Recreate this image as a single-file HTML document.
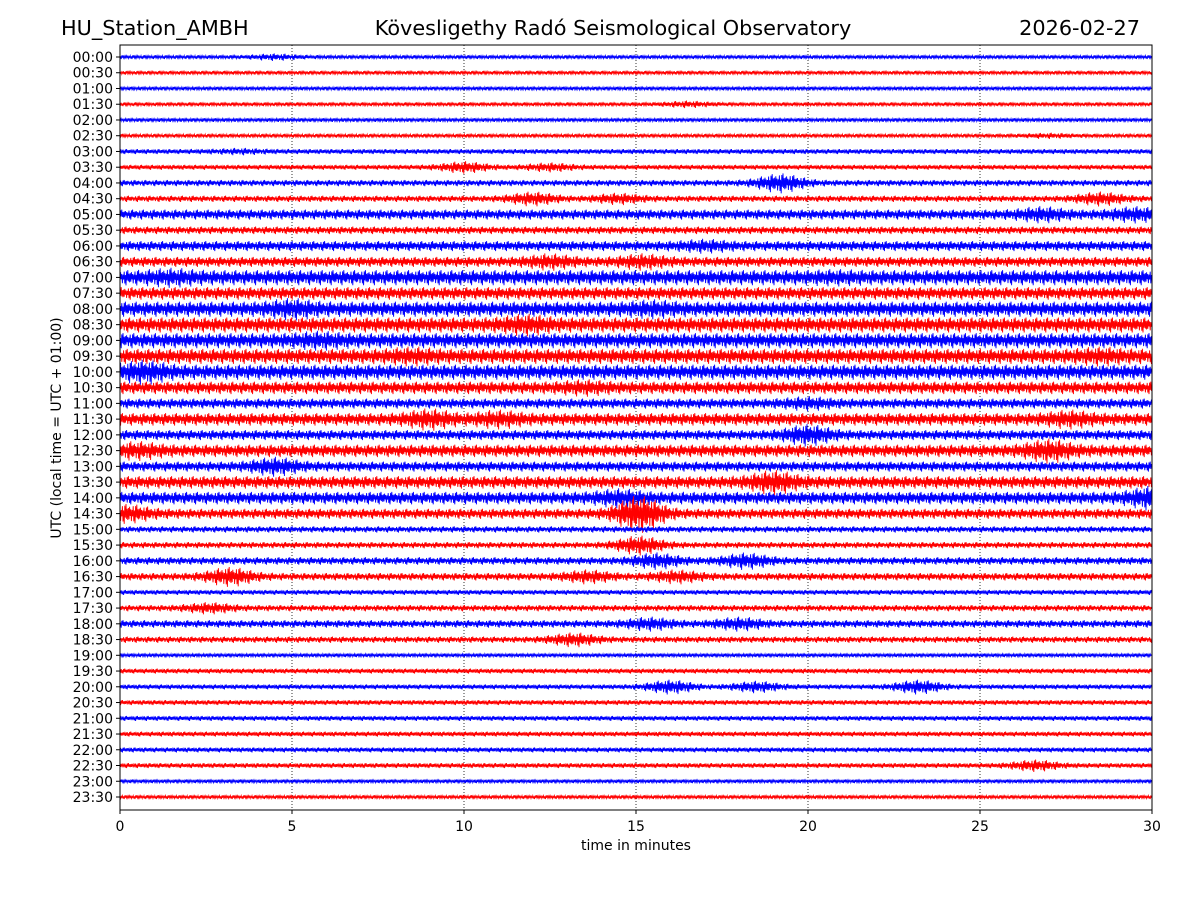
<!DOCTYPE html>
<html><head><meta charset="utf-8">
<style>
html,body{margin:0;padding:0;background:#fff;}
svg{display:block;font-family:"DejaVu Sans","Liberation Sans",sans-serif;}
</style></head>
<body>
<svg id="chart" width="1200" height="900" viewBox="0 0 1200 900" xmlns="http://www.w3.org/2000/svg">
  <rect x="0" y="0" width="1200" height="900" fill="#fff"/>
  <text x="61" y="35" font-size="20.8">HU_Station_AMBH</text>
  <text x="613" y="35" font-size="20.8" text-anchor="middle">Kövesligethy Radó Seismological Observatory</text>
  <text x="1140" y="35" font-size="20.8" text-anchor="end">2026-02-27</text>
  <g id="grid"></g>
  <g id="traces"></g>
  <rect x="120" y="45" width="1032" height="765" fill="none" stroke="#000" stroke-width="1"/>
  <g id="yaxis"></g>
  <g id="xaxis"></g>
  <text x="636" y="850" font-size="14" text-anchor="middle">time in minutes</text>
  <text transform="translate(61,428) rotate(-90)" font-size="14" text-anchor="middle">UTC (local time = UTC + 01:00)</text>
</svg>
<script>
// ---- data ----
const rowLabels = ["00:00","00:30","01:00","01:30","02:00","02:30","03:00","03:30","04:00","04:30","05:00","05:30","06:00","06:30","07:00","07:30","08:00","08:30","09:00","09:30","10:00","10:30","11:00","11:30","12:00","12:30","13:00","13:30","14:00","14:30","15:00","15:30","16:00","16:30","17:00","17:30","18:00","18:30","19:00","19:30","20:00","20:30","21:00","21:30","22:00","22:30","23:00","23:30"];
const baseAmp = [1.5,1.5,1.5,1.5,1.5,1.5,2,2,2.5,2.5,4,3,4,4,6,5,6,6,6,6,6,5,4,5,4,5,4,5,5,4,2.5,2.5,3,3,2,2.5,3,2.5,1.5,2,2,2,2,2,2,2,1.5,1.5];
const eventRows = [0,3,5,6,7,7,8,9,9,9,10,10,12,13,13,14,14,16,16,17,18,19,19,20,21,22,23,23,23,24,25,25,26,27,28,28,29,29,31,32,32,33,33,33,35,36,36,37,40,40,40,45];
const eventMins = [4.5,16.5,27,3.5,10,12.5,19.2,12,14.5,28.5,26.8,29.5,17,12.5,15.2,1.5,20.8,5,15.5,11.8,5.8,8.5,28.5,0.7,13.5,20,9,11,27.6,20,0.5,27,4.5,19,14.5,30,0.2,15.1,15.1,15.6,18.2,3.2,13.6,16.2,2.6,15.4,18,13.2,16,18.5,23.2,26.6];
const eventAmps = [3,3,2.5,3,5,4,8,6,5,6,7,7,6,7,7,8,7,9,8,9,8,8,8,10,7,6,9,8,8,9,8,10,8,10,8,10,8,15,8,7,7,8,6,6,5,6,6,6,6,5,6,5];
const xTicks = [0,5,10,15,20,25,30];

// ---- scales ----
const X0=120, X1=1152, Y0=57, DY=(797-57)/47;
const xScale = m => X0 + (X1-X0)*m/30;
const rowY = r => Y0 + r*DY;
const ampScale = a => a;
const NS="http://www.w3.org/2000/svg";

function envelope(r, m){
  let a = baseAmp[r];
  for(let i=0;i<eventRows.length;i++){
    if(eventRows[i]!==r) continue;
    const d=(m-eventMins[i])/0.7;
    const v=baseAmp[r]+(eventAmps[i]-baseAmp[r])*Math.exp(-d*d);
    if(v>a) a=v;
  }
  return a;
}
const pattern=[1,-0.55,0.8,-1,0.35,-0.85,0.65,-0.4,0.95,-0.7,0.5,-0.95,0.3,-0.6,1.3,-0.45,0.7,-1.2];

// grid
const grid=document.getElementById('grid');
xTicks.slice(1,-1).forEach(t=>{
  const l=document.createElementNS(NS,'line');
  
  
  l.setAttribute('x1',xScale(t));l.setAttribute('x2',xScale(t));
  l.setAttribute('y1',45);l.setAttribute('y2',810);
  l.setAttribute('stroke','#000');l.setAttribute('stroke-width','0.8');l.setAttribute('stroke-dasharray','1,2');
  grid.appendChild(l);
});

// traces
const traces=document.getElementById('traces');
rowLabels.forEach((lab,r)=>{
  const y=rowY(r);
  let d='';
  let k=0;
  for(let px=X0; px<=X1; px+=0.6){
    const m=(px-X0)/(X1-X0)*30;
    const a=ampScale(envelope(r,m))*pattern[(k*7+r*5)%pattern.length];
    d+=(k?'L':'M')+px.toFixed(1)+' '+(y+a).toFixed(1);
    k++;
  }
  const p=document.createElementNS(NS,'path');
  
  
  p.setAttribute('d',d);
  p.setAttribute('fill','none');
  p.setAttribute('stroke',r%2?'#ff0000':'#0000ff');
  p.setAttribute('stroke-width','0.9');
  traces.appendChild(p);
});

// y axis
const ya=document.getElementById('yaxis');
rowLabels.forEach((lab,r)=>{
  const y=rowY(r);
  const t=document.createElementNS(NS,'line');
  
  
  t.setAttribute('x1',116);t.setAttribute('x2',120);t.setAttribute('y1',y);t.setAttribute('y2',y);t.setAttribute('stroke','#000');
  ya.appendChild(t);
  const tx=document.createElementNS(NS,'text');
  
  
  tx.setAttribute('x',113);tx.setAttribute('y',y+5);tx.setAttribute('font-size','14');tx.setAttribute('text-anchor','end');
  tx.textContent=lab;
  ya.appendChild(tx);
});
// x axis
const xa=document.getElementById('xaxis');
xTicks.forEach(v=>{
  const x=xScale(v);
  const t=document.createElementNS(NS,'line');
  
  
  t.setAttribute('x1',x);t.setAttribute('x2',x);t.setAttribute('y1',810);t.setAttribute('y2',814);t.setAttribute('stroke','#000');
  xa.appendChild(t);
  const tx=document.createElementNS(NS,'text');
  
  
  tx.setAttribute('x',x);tx.setAttribute('y',831);tx.setAttribute('font-size','14');tx.setAttribute('text-anchor','middle');
  tx.textContent=v;
  xa.appendChild(tx);
});
</script>
</body></html>
